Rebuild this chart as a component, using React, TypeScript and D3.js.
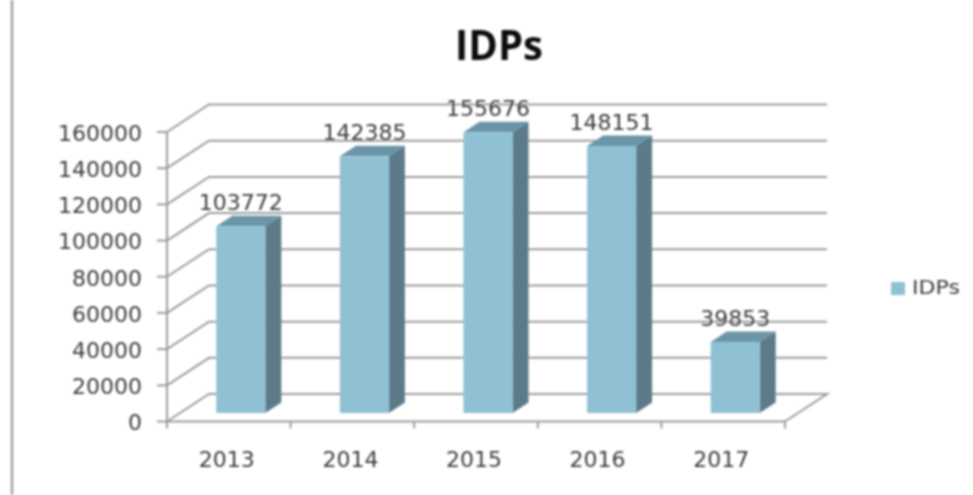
import React from "react";
import * as d3 from "d3";

const categories = ["2013", "2014", "2015", "2016", "2017"];
const values = [103772, 142385, 155676, 148151, 39853];
const ticks = [0, 20000, 40000, 60000, 80000, 100000, 120000, 140000, 160000];
const seriesName = "IDPs";

const W = 973, H = 495;
const frontL = 167, frontR = 785, frontB = 421.5, frontT = 132;
const dx = 42, dy = -27.5;
const gridC = "#9c9c9c", textC = "#3c3c3c";
const barFront = "#90c0d4", barSide = "#5b7a88", barTop = "#6b95a6";
const font = "'DejaVu Sans', sans-serif";

export default function App() {
  const yFront = d3.scaleLinear().domain([0, 160000]).range([frontB, frontT]);
  const x = d3.scaleBand().domain(categories).range([frontL, frontR]);
  const barW = 49, barDx = 16, barDy = -10.5;
  const barBottom = 413;
  const yBar = (v: number) => yFront(v) + (barBottom - frontB) + 1;
  return (
    <svg width={W} height={H} style={{ position: "absolute", left: 0, top: 0, background: "#fff" }}>
      <defs>
        <filter id="soft" filterUnits="userSpaceOnUse" x="0" y="0" width={W} height={H}>
          <feGaussianBlur stdDeviation="0.8" />
        </filter>
      </defs>
      <g filter="url(#soft)">
        <line x1={12} x2={12} y1={0} y2={H} stroke="#a0a0a0" strokeWidth={2.5} />
        <text x={499} y={60} textAnchor="middle" fontFamily="'Open Sans', sans-serif" fontWeight={700} fontSize={41} textLength={88} lengthAdjust="spacingAndGlyphs" fill="#111">{seriesName}</text>

        {ticks.map((t) => {
          const y = yFront(t);
          return (
            <g key={t}>
              <polyline
                points={t === 0
                  ? `${frontL},${y} ${frontL + dx},${y + dy} ${frontR + dx},${y + dy} ${frontR},${y}`
                  : `${frontL},${y} ${frontL + dx},${y + dy} ${frontR + dx},${y + dy}`}
                fill="none" stroke={gridC} strokeWidth={2} />
              <line x1={frontL - 10} x2={frontL} y1={y} y2={y} stroke={gridC} strokeWidth={2} />
              <text x={142} y={y + 1} dy="0.36em" textAnchor="end" fontFamily={font} fontSize={22} fill={textC}>{t}</text>
            </g>
          );
        })}
        <line x1={frontL} x2={frontL} y1={frontT} y2={frontB} stroke={gridC} strokeWidth={2} />
        <line x1={frontL} x2={frontR} y1={frontB} y2={frontB} stroke={gridC} strokeWidth={2} />
        {[...categories.map((c) => x(c)!), frontR].map((px, i) => (
          <line key={i} x1={px} x2={px} y1={frontB} y2={frontB + 7} stroke={gridC} strokeWidth={2} />
        ))}

        {categories.map((c, i) => {
          const cx = x(c)! + x.bandwidth() / 2 + 12;
          const l = cx - barW / 2, r = cx + barW / 2;
          const top = yBar(values[i]);
          return (
            <g key={c}>
              <polygon points={`${l},${top} ${l + barDx},${top + barDy} ${r + barDx},${top + barDy} ${r},${top}`} fill={barTop} />
              <polygon points={`${r},${top} ${r + barDx},${top + barDy} ${r + barDx},${barBottom + barDy} ${r},${barBottom}`} fill={barSide} />
              <rect x={l} y={top} width={barW} height={barBottom - top} fill={barFront} />
              <text x={cx} y={top - 16} textAnchor="middle" fontFamily={font} fontSize={22} fill={textC}>{values[i]}</text>
              <text x={x(c)! + x.bandwidth() / 2 - 2} y={467} textAnchor="middle" fontFamily={font} fontSize={22} fill={textC}>{c}</text>
            </g>
          );
        })}

        <rect x={891} y={282} width={14} height={13} fill={barFront} />
        <text x={912} y={294} fontFamily={font} fontSize={19} textLength={48} lengthAdjust="spacingAndGlyphs" fill={textC}>{seriesName}</text>
      </g>
    </svg>
  );
}
